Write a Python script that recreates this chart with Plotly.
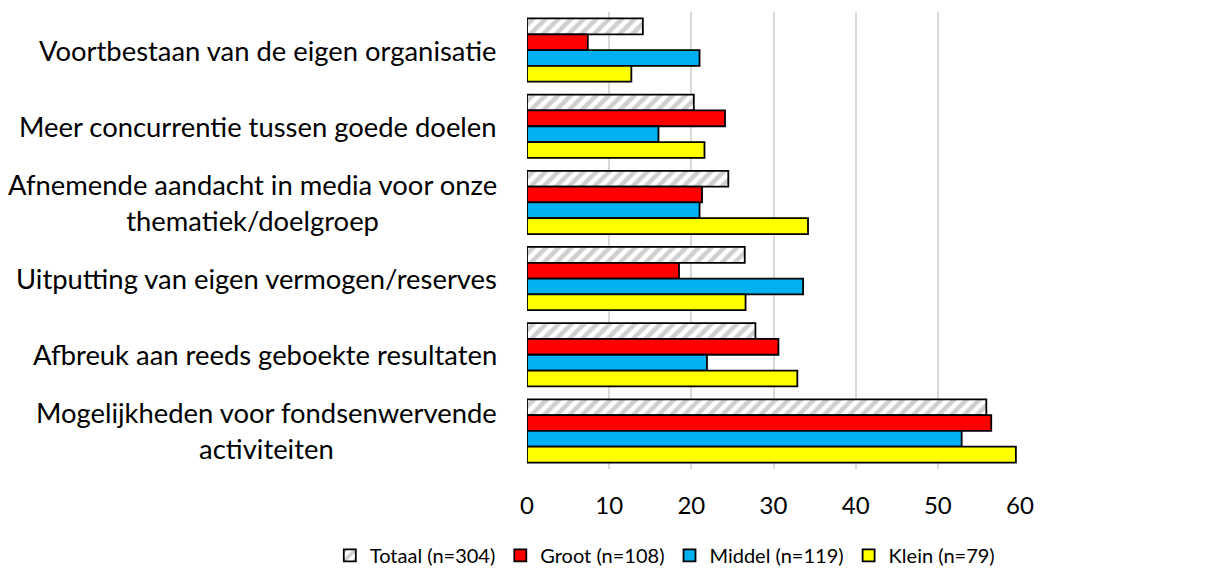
import plotly.graph_objects as go

# categorieen, van boven naar beneden
categories = [
    "Voortbestaan van de eigen organisatie",
    "Meer concurrentie tussen goede doelen",
    "Afnemende aandacht in media voor onze<br>thematiek/doelgroep",
    "Uitputting van eigen vermogen/reserves",
    "Afbreuk aan reeds geboekte resultaten",
    "Mogelijkheden voor fondsenwervende<br>activiteiten",
]
totaal = [14.1, 20.3, 24.5, 26.5, 27.8, 55.9]
groot = [7.4, 24.1, 21.3, 18.5, 30.6, 56.5]
middel = [21.0, 16.0, 21.0, 33.6, 21.9, 52.9]
klein = [12.7, 21.6, 34.2, 26.6, 32.9, 59.5]
x_ticks = [0, 10, 20, 30, 40, 50, 60]

FONT = "Lato"

fig = go.Figure()

fig.add_trace(go.Bar(
    y=categories, x=totaal, orientation="h", name="Totaal (n=304)",
    marker=dict(color="white", line=dict(color="black", width=1.8),
                pattern=dict(shape="/", fgcolor="#a0a0a0", bgcolor="white",
                             size=9, solidity=0.5)),
))
fig.add_trace(go.Bar(
    y=categories, x=groot, orientation="h", name="Groot (n=108)",
    marker=dict(color="#ff0000", line=dict(color="black", width=1.8)),
))
fig.add_trace(go.Bar(
    y=categories, x=middel, orientation="h", name="Middel (n=119)",
    marker=dict(color="#00b0f0", line=dict(color="black", width=1.8)),
))
fig.add_trace(go.Bar(
    y=categories, x=klein, orientation="h", name="Klein (n=79)",
    marker=dict(color="#ffff00", line=dict(color="black", width=1.8)),
))

# labels links, regels gecentreerd zoals in het origineel
for cat in categories:
    fig.add_annotation(
        x=0, xref="paper", y=cat, yref="y", text=cat,
        xanchor="right", xshift=-28, align="center", showarrow=False,
        font=dict(family=FONT, size=27.4, color="black"),
    )

fig.update_layout(
    width=1217, height=581,
    margin=dict(l=519, r=205, t=3.5, b=119.5),
    plot_bgcolor="white", paper_bgcolor="white",
    barmode="group", bargap=0.17, bargroupgap=0,
    font=dict(family=FONT, size=20, color="black"),
    showlegend=True,
    legend=dict(
        orientation="h", x=-0.40, xanchor="left", y=-0.189, yanchor="middle",
        font=dict(family=FONT, size=20, color="black"),
        itemwidth=30,
    ),
)
fig.update_xaxes(
    range=[0, 60], tickvals=x_ticks, showgrid=True, gridcolor="#d9d9d9",
    gridwidth=1.5, zeroline=False, showline=False, ticks="",
    ticklabelstandoff=20, tickfont=dict(family=FONT, size=24, color="black"),
)
fig.update_yaxes(
    autorange="reversed", showticklabels=False, showgrid=False,
    showline=False, zeroline=False, ticks="",
)

fig.write_html("out.html")
